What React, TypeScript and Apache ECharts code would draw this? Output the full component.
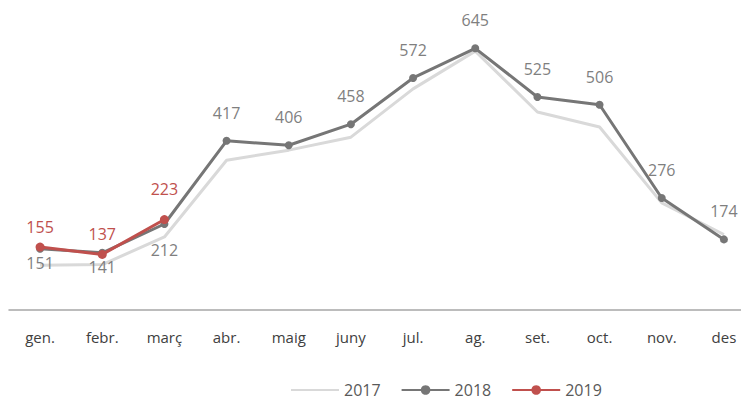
import React, { useEffect, useRef } from "react";
import * as echarts from "echarts";

const categories = ["gen.", "febr.", "març", "abr.", "maig", "juny", "jul.", "ag.", "set.", "oct.", "nov.", "des"];
const values2017 = [110, 112, 180, 369, 394, 426, 545, 638, 488, 451, 264, 186];
const values2018 = [151, 141, 212, 417, 406, 458, 572, 645, 525, 506, 276, 174];
const values2019 = [155, 137, 223];

const FONT = "Open Sans";

export default function App() {
  const ref = useRef<HTMLDivElement>(null);
  useEffect(() => {
    if (!ref.current) return;
    const chart = echarts.init(ref.current, null, { renderer: "svg" });
    const below2018: Record<number, number> = { 0: 2, 1: 2, 2: 14 };
    const dist2019 = [8, 8, 18];
    chart.setOption({
      animation: false,
      textStyle: { fontFamily: FONT },
      grid: { left: 9, width: 746, top: 26, bottom: 94, containLabel: false },
      legend: {
        left: 285,
        top: 377,
        itemWidth: 48,
        itemHeight: 12,
        itemGap: 20,
        textStyle: { fontFamily: FONT, fontSize: 16, color: "#595959" },
        data: [{ name: "2017", itemStyle: { opacity: 0 } }, "2018", "2019"],
      },
      xAxis: {
        type: "category",
        data: categories,
        boundaryGap: true,
        axisLine: { lineStyle: { color: "#a6a6a6", width: 1.5 } },
        axisTick: { show: false },
        axisLabel: { color: "#404040", fontSize: 15, margin: 19, fontFamily: FONT },
      },
      yAxis: {
        type: "value",
        min: 0,
        max: 700,
        show: false,
        splitLine: { show: false },
      },
      series: [
        {
          name: "2017",
          type: "line",
          data: values2017,
          symbol: "none",
          lineStyle: { color: "#d9d9d9", width: 3 },
          itemStyle: { color: "#d9d9d9" },
          z: 1,
        },
        {
          name: "2018",
          type: "line",
          data: values2018.map((v, i) => ({
            value: v,
            label:
              below2018[i] !== undefined
                ? { position: "bottom", distance: below2018[i] }
                : { position: "top", distance: 16 },
          })),
          symbol: "circle",
          symbolSize: 8,
          lineStyle: { color: "#767676", width: 3 },
          itemStyle: { color: "#767676" },
          label: { show: true, color: "#7f7f7f", fontSize: 16, fontFamily: FONT },
          z: 2,
        },
        {
          name: "2019",
          type: "line",
          data: values2019.map((v, i) => ({
            value: v,
            label: { position: "top", distance: dist2019[i] },
          })),
          symbol: "circle",
          symbolSize: 9,
          lineStyle: { color: "#c0504d", width: 3 },
          itemStyle: { color: "#c0504d" },
          label: { show: true, color: "#c0504d", fontSize: 16, fontFamily: FONT },
          z: 3,
        },
      ],
    });
    return () => chart.dispose();
  }, []);
  return (
    <div style={{ position: "absolute", left: 0, top: 0, width: 741, height: 404, overflow: "hidden" }}>
      <div ref={ref} style={{ width: 760, height: 404 }} />
    </div>
  );
}
